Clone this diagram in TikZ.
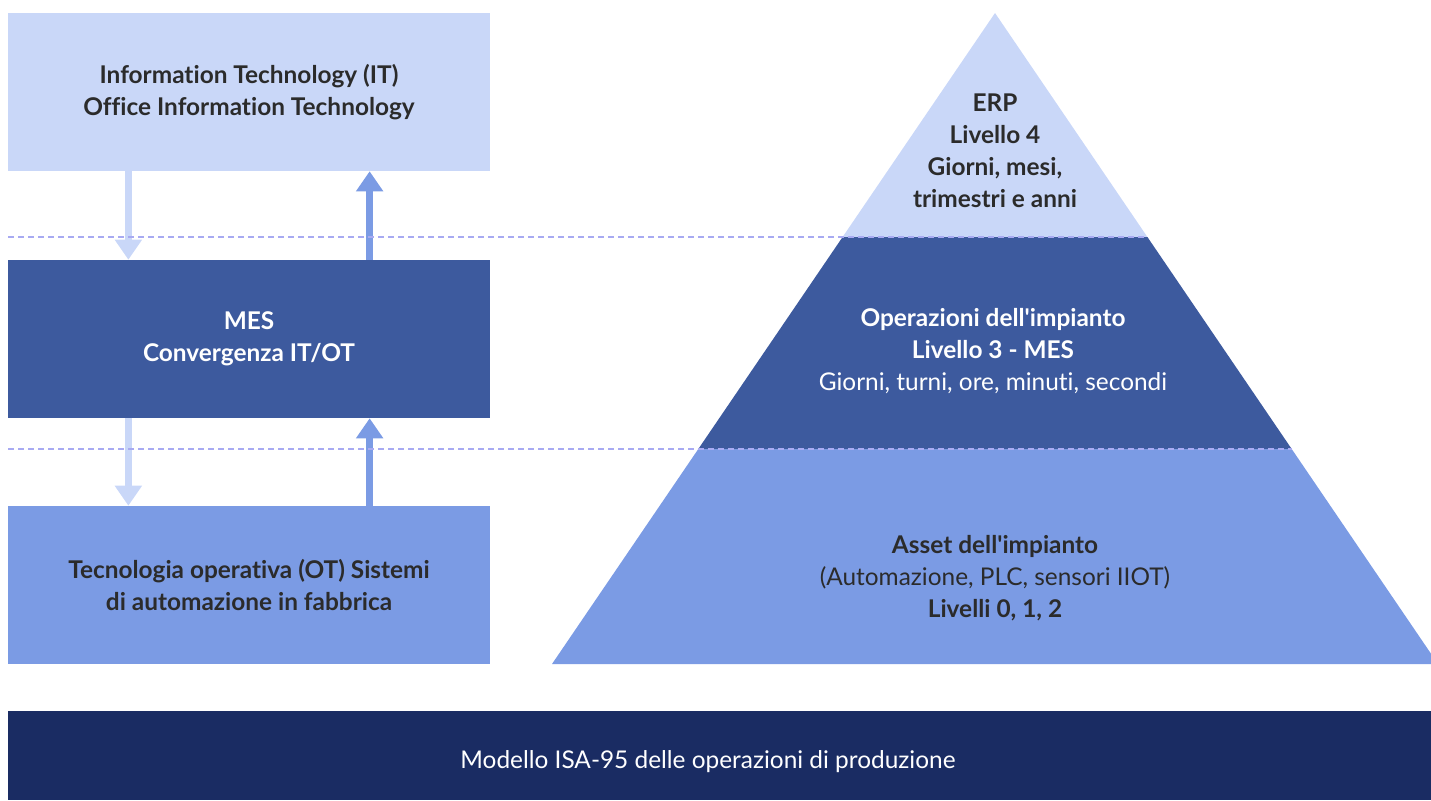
\documentclass[tikz,border=0pt]{standalone}
\usepackage{fontspec}
\setmainfont[Ligatures={TeXOff,NoCommon}]{Lato}
\usetikzlibrary{arrows.meta,calc}
\definecolor{lightblue}{HTML}{C9D7F8}
\definecolor{midblue}{HTML}{3D5A9E}
\definecolor{softblue}{HTML}{7B9BE4}
\definecolor{navy}{HTML}{1A2C63}
\definecolor{dashcol}{HTML}{A8AAF2}
\definecolor{txtdark}{HTML}{2B2B2B}
\tikzset{
  box/.style={inner sep=0pt, minimum width=361.5pt, minimum height=118.5pt, align=center,
    font=\fontsize{18.3pt}{24pt}\selectfont\bfseries},
  lbl/.style={inner sep=0pt, align=center, font=\fontsize{18.3pt}{24pt}\selectfont},
  dashline/.style={draw=dashcol, line width=1.5pt, dash pattern=on 4.5pt off 3pt},
  downarrow/.style={draw=lightblue, line width=5pt, -{Triangle[length=15pt,width=19.5pt]}},
  uparrow/.style={draw=softblue, line width=5pt, -{Triangle[length=15pt,width=19.5pt]}}
}
\begin{document}
\begin{tikzpicture}[x=0.75pt,y=-0.75pt]
\useasboundingbox (0,0) rectangle (1431,800);
% left boxes
\node[box, fill=lightblue, text=txtdark] (b1) at (249,92) {Information Technology (IT)\\Office Information Technology};
\node[box, fill=midblue, text=white] (b2) at (249,339) {MES\\Convergenza IT/OT};
\node[box, fill=softblue, text=txtdark] (b3) at (249,585) {Tecnologia operativa (OT) Sistemi\\di automazione in fabbrica};
% arrows
\draw[downarrow] ($(b1.south west)!0.25!(b1.south east)$) -- ($(b2.north west)!0.25!(b2.north east)$);
\draw[uparrow] ($(b2.north west)!0.75!(b2.north east)$) -- ($(b1.south west)!0.75!(b1.south east)$);
\draw[downarrow] ($(b2.south west)!0.25!(b2.south east)$) -- ($(b3.north west)!0.25!(b3.north east)$);
\draw[uparrow] ($(b3.north west)!0.75!(b3.north east)$) -- ($(b2.south west)!0.75!(b2.south east)$);
% pyramid
\fill[lightblue] (995,13) -- (1147.4,237) -- (842.6,237) -- cycle;
\fill[midblue] (842.6,237) -- (1147.4,237) -- (1291.7,449) -- (698.3,449) -- cycle;
\fill[softblue] (698.3,449) -- (1291.7,449) -- (1438,664) -- (552,664) -- cycle;
% dashed lines
\draw[dashline] (8,237) -- (1147.4,237);
\draw[dashline] (8,449) -- (1291.7,449);
% pyramid labels
\node[lbl, text=txtdark, font=\fontsize{18.3pt}{24pt}\selectfont\bfseries] (erp) at (995,151) {ERP\\Livello 4\\Giorni, mesi,\\trimestri e anni};
\node[lbl, text=white] (l3) at (993,351) {\textbf{Operazioni dell'impianto}\\\textbf{Livello 3 - MES}\\Giorni, turni, ore, minuti, secondi};
\node[lbl, text=txtdark] (l0) at (995,578) {\textbf{Asset dell'impianto}\\(Automazione, PLC, sensori IIOT)\\\textbf{Livelli 0, 1, 2}};
% bottom bar
\fill[navy] (8,711) rectangle (1440,800);
\node[lbl, text=white] (bar) at (708,762) {Modello ISA-95 delle operazioni di produzione};
\end{tikzpicture}
\end{document}
